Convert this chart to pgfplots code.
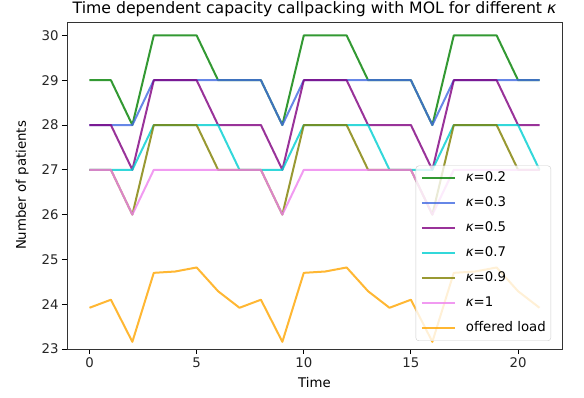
\documentclass[border=0pt]{standalone}
\usepackage{fontspec}
\setmainfont{DejaVu Sans}
\usepackage{pgfplots}
\pgfplotsset{compat=1.18}
\definecolor{cgreen}{RGB}{0,128,0}
\definecolor{cblue}{RGB}{65,105,225}
\definecolor{cpurple}{RGB}{128,0,128}
\definecolor{ccyan}{RGB}{0,206,209}
\definecolor{colive}{RGB}{128,128,0}
\definecolor{cviolet}{RGB}{238,130,238}
\definecolor{corange}{RGB}{255,165,0}
\begin{document}
\begin{tikzpicture}
\begin{axis}[
  scale only axis,
  width=495pt, height=327pt,
  xmin=-1.05, xmax=22.05,
  ymin=23, ymax=30.3,
  xtick={0,5,10,15,20},
  ytick={23,24,25,26,27,28,29,30},
  tick align=outside,
  tick pos=left,
  major tick length=5pt,
  every tick/.style={black, line width=0.9pt},
  axis line style={line width=0.9pt, black!80},
  /pgf/number format/assume math mode=true,
  ticklabel style={font=\fontsize{13.3}{15}\selectfont, text=black!85},
  xlabel={Time},
  ylabel={Number of patients},
  label style={font=\fontsize{13.3}{15}\selectfont},
  xlabel style={yshift=-3pt},
  ylabel style={yshift=6pt},
  title={Time dependent capacity callpacking with MOL for different \textit{κ}},
  title style={font=\fontsize{15.7}{18}\selectfont, yshift=-4pt},
  every axis plot/.append style={line width=2pt, draw opacity=0.8, line join=round, no markers},
  legend style={at={(1,0)}, anchor=south east, xshift=-11pt, yshift=8pt,
    draw=black!20, fill=white, fill opacity=0.8, text opacity=1,
    rounded corners=3pt, font=\fontsize{13.3}{15}\selectfont,
    nodes={inner sep=0pt, text height=10pt, text depth=3pt},
    row sep=12pt, inner xsep=5pt, inner ysep=6pt},
  legend cell align=left,
  legend image post style={line width=2pt},
  legend image code/.code={\draw[#1] (0pt,0pt) -- (33pt,0pt);},
]
\addplot[cgreen] coordinates {(0,29)(1,29)(2,28)(3,30)(4,30)(5,30)(6,29)(7,29)(8,29)(9,28)(10,30)(11,30)(12,30)(13,29)(14,29)(15,29)(16,28)(17,30)(18,30)(19,30)(20,29)(21,29)};
\addlegendentry{\hspace{10pt}\textit{κ}=0.2}
\addplot[cblue] coordinates {(0,28)(1,28)(2,28)(3,29)(4,29)(5,29)(6,29)(7,29)(8,29)(9,28)(10,29)(11,29)(12,29)(13,29)(14,29)(15,29)(16,28)(17,29)(18,29)(19,29)(20,29)(21,29)};
\addlegendentry{\hspace{10pt}\textit{κ}=0.3}
\addplot[cpurple] coordinates {(0,28)(1,28)(2,27)(3,29)(4,29)(5,29)(6,28)(7,28)(8,28)(9,27)(10,29)(11,29)(12,29)(13,28)(14,28)(15,28)(16,27)(17,29)(18,29)(19,29)(20,28)(21,28)};
\addlegendentry{\hspace{10pt}\textit{κ}=0.5}
\addplot[ccyan] coordinates {(0,27)(1,27)(2,27)(3,28)(4,28)(5,28)(6,28)(7,27)(8,27)(9,27)(10,28)(11,28)(12,28)(13,28)(14,27)(15,27)(16,27)(17,28)(18,28)(19,28)(20,28)(21,27)};
\addlegendentry{\hspace{10pt}\textit{κ}=0.7}
\addplot[colive] coordinates {(0,27)(1,27)(2,26)(3,28)(4,28)(5,28)(6,27)(7,27)(8,27)(9,26)(10,28)(11,28)(12,28)(13,27)(14,27)(15,27)(16,26)(17,28)(18,28)(19,28)(20,27)(21,27)};
\addlegendentry{\hspace{10pt}\textit{κ}=0.9}
\addplot[cviolet] coordinates {(0,27)(1,27)(2,26)(3,27)(4,27)(5,27)(6,27)(7,27)(8,27)(9,26)(10,27)(11,27)(12,27)(13,27)(14,27)(15,27)(16,26)(17,27)(18,27)(19,27)(20,27)(21,27)};
\addlegendentry{\hspace{10pt}\textit{κ}=1}
\addplot[corange] coordinates {(0,23.92)(1,24.10)(2,23.16)(3,24.70)(4,24.73)(5,24.82)(6,24.29)(7,23.92)(8,24.10)(9,23.16)(10,24.70)(11,24.73)(12,24.82)(13,24.29)(14,23.92)(15,24.10)(16,23.16)(17,24.70)(18,24.73)(19,24.82)(20,24.29)(21,23.92)};
\addlegendentry{\hspace{10pt}offered load}
\end{axis}
\pgfresetboundingbox
\path[use as bounding box] (current axis.south west) ++(-67pt,-49pt) rectangle ++(584pt,398pt);
\end{tikzpicture}
\end{document}
